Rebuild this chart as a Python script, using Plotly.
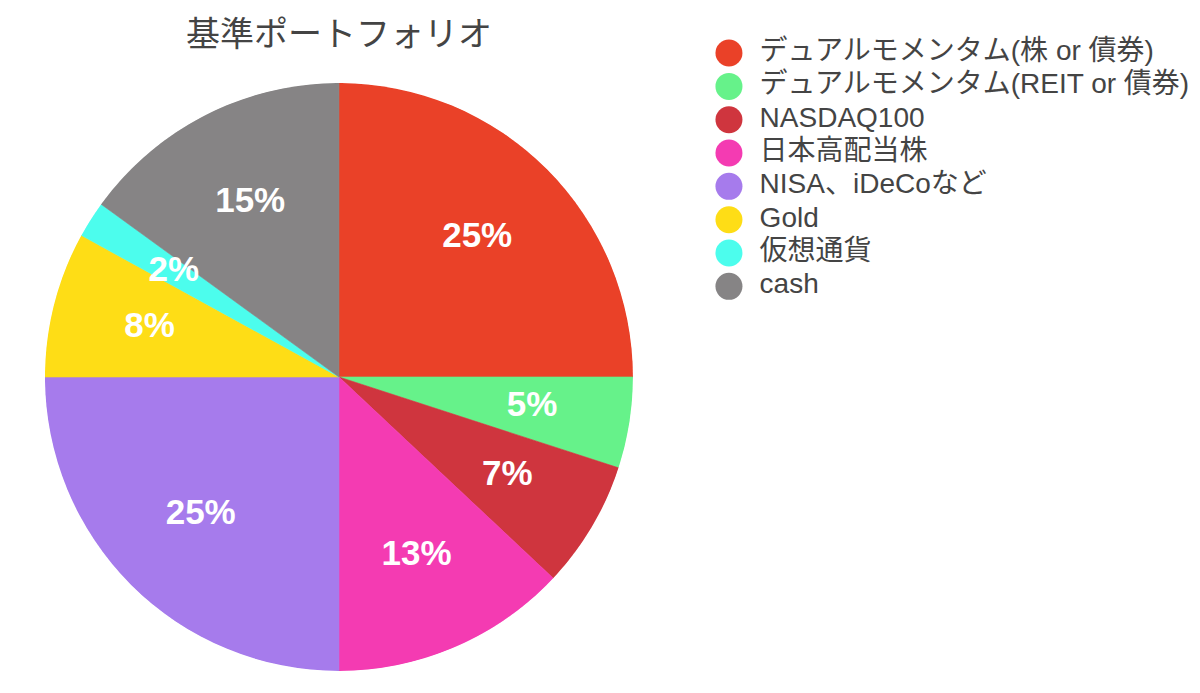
import plotly.graph_objects as go

# データ
labels = ["デュアルモメンタム(株 or 債券)", "デュアルモメンタム(REIT or 債券)", "NASDAQ100",
          "日本高配当株", "NISA、iDeCoなど", "Gold", "仮想通貨", "cash"]
values = [25, 5, 7, 13, 25, 8, 2, 15]
colors = ["#ea4128", "#66f28a", "#cf353e", "#f43bb2", "#a67bec", "#fedd16", "#4cfded", "#868485"]
title_text = "基準ポートフォリオ"

LATIN = "Liberation Sans, Arial, Noto Sans CJK JP"
PIE_DOMAIN = dict(x=[0.0308, 0.5208], y=[0.0433, 0.8918])

# 各扇形の中心角と幅（度）
total = sum(values)
widths = [v / total * 360 for v in values]
mid_angles = []
cum = 0
for v in values:
    mid_angles.append((cum + v / 2) / total * 360)
    cum += v

fig = go.Figure()

# 円グラフ（barpolarで扇形を描く：ラベルを上に重ねるため）
fig.add_trace(go.Barpolar(r=[1] * len(values), theta=mid_angles, width=widths,
                          marker=dict(color=colors, line=dict(color=colors, width=0.6)),
                          customdata=labels, hovertemplate="%{customdata}: %{text}<extra></extra>",
                          text=[f"{v}%" for v in values], showlegend=False))

# ラベル（各扇形の中央角、半径の2/3あたり）
fig.add_trace(go.Scatterpolar(r=[0.665] * len(values), theta=mid_angles, mode="text",
                              text=[f"{v}%" for v in values],
                              textfont=dict(family=LATIN, size=35, color="white", weight="bold"),
                              cliponaxis=False, showlegend=False, hoverinfo="skip"))

# 凡例（丸マーカー）
rows = list(range(len(labels)))
fig.add_trace(go.Scatter(x=[0] * len(labels), y=rows, mode="markers",
                         marker=dict(size=27, color=colors, line=dict(width=0)),
                         cliponaxis=False, showlegend=False, hoverinfo="skip",
                         xaxis="x2", yaxis="y2"))
fig.add_trace(go.Scatter(x=[0.064] * len(labels), y=rows, mode="text", text=labels,
                         textposition="middle right",
                         textfont=dict(family=LATIN, size=28, color="#444"),
                         cliponaxis=False, showlegend=False, hoverinfo="skip",
                         xaxis="x2", yaxis="y2"))

fig.update_layout(
    width=1200, height=693,
    margin=dict(l=0, r=0, t=0, b=0),
    paper_bgcolor="white", plot_bgcolor="white",
    title=dict(text=title_text, x=0.2758, xanchor="center", y=0.962, yanchor="middle",
               font=dict(family="Noto Sans CJK JP", size=34, color="#444")),
    polar=dict(domain=PIE_DOMAIN, bgcolor="rgba(0,0,0,0)", bargap=0, hole=0,
               radialaxis=dict(range=[0, 1], visible=False),
               angularaxis=dict(rotation=90, direction="clockwise", visible=False)),
    xaxis2=dict(domain=[0.6008, 1.0], range=[0, 1], visible=False, fixedrange=True),
    yaxis2=dict(domain=[0.5743, 0.9590], range=[7.5, -0.5], visible=False, fixedrange=True,
                anchor="x2"),
)

fig.write_html("out.html")
